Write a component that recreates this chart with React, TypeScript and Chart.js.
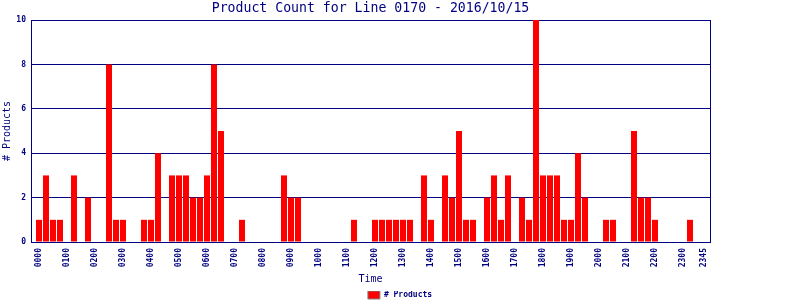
import React, { useEffect, useRef } from "react";
import { Chart, registerables } from "chart.js";
Chart.register(...registerables);

const times = [
  "0000", "0015", "0030", "0045", "0100", "0115", "0130", "0145",
  "0200", "0215", "0230", "0245", "0300", "0315", "0330", "0345",
  "0400", "0415", "0430", "0445", "0500", "0515", "0530", "0545",
  "0600", "0615", "0630", "0645", "0700", "0715", "0730", "0745",
  "0800", "0815", "0830", "0845", "0900", "0915", "0930", "0945",
  "1000", "1015", "1030", "1045", "1100", "1115", "1130", "1145",
  "1200", "1215", "1230", "1245", "1300", "1315", "1330", "1345",
  "1400", "1415", "1430", "1445", "1500", "1515", "1530", "1545",
  "1600", "1615", "1630", "1645", "1700", "1715", "1730", "1745",
  "1800", "1815", "1830", "1845", "1900", "1915", "1930", "1945",
  "2000", "2015", "2030", "2045", "2100", "2115", "2130", "2145",
  "2200", "2215", "2230", "2245", "2300", "2315", "2330", "2345",
];

const counts = [
  1, 3, 1, 1, 0, 3, 0, 2,
  0, 0, 8, 1, 1, 0, 0, 1,
  1, 4, 0, 3, 3, 3, 2, 2,
  3, 8, 5, 0, 0, 1, 0, 0,
  0, 0, 0, 3, 2, 2, 0, 0,
  0, 0, 0, 0, 0, 1, 0, 0,
  1, 1, 1, 1, 1, 1, 0, 3,
  1, 0, 3, 2, 5, 1, 1, 0,
  2, 3, 1, 3, 0, 2, 1, 10,
  3, 3, 3, 1, 1, 4, 2, 0,
  0, 1, 1, 0, 0, 5, 2, 2,
  1, 0, 0, 0, 0, 1, 0, 0,
];

const tickLabels = [
  "0000", "0100", "0200", "0300", "0400", "0500", "0600", "0700",
  "0800", "0900", "1000", "1100", "1200", "1300", "1400", "1500",
  "1600", "1700", "1800", "1900", "2000", "2100", "2200", "2300", "2345",
];

const yTicks = [0, 2, 4, 6, 8, 10];

const chartTitle = "Product Count for Line 0170 - 2016/10/15";
const seriesName = "# Products";
const xTitle = "Time";
const yTitle = "# Products";

const NAVY = "#000080";
const RED = "#ff0000";
const MONO = "'DejaVu Sans Mono', 'Liberation Mono', monospace";

export default function App() {
  const ref = useRef<HTMLCanvasElement>(null);

  useEffect(() => {
    if (!ref.current) return;

    const chart = new Chart(ref.current, {
      type: "bar",
      data: {
        datasets: [
          {
            label: seriesName,
            data: counts.map((v, i) => ({ x: i, y: v })),
            backgroundColor: RED,
            borderWidth: 0,
            inflateAmount: 0,
            barThickness: 6,
          } as any,
        ],
      },
      options: {
        animation: false,
        responsive: false,
        layout: { padding: { left: 0, right: 0, top: 0, bottom: -9 } },
        plugins: {
          title: {
            display: true,
            fullSize: false,
            text: chartTitle,
            color: NAVY,
            font: { family: MONO, size: 13.2, weight: "normal", lineHeight: 1.2 },
            padding: { top: 1, bottom: 3.2 },
          },
          legend: {
            position: "bottom",
            fullSize: true,
            labels: {
              boxWidth: 12,
              boxHeight: 8,
              padding: 0,
              color: NAVY,
              font: { family: MONO, size: 8, weight: "bold" },
              generateLabels: () => [
                {
                  text: seriesName,
                  fillStyle: RED,
                  strokeStyle: "#808080",
                  lineWidth: 1,
                  hidden: false,
                  datasetIndex: 0,
                  fontColor: NAVY,
                } as any,
              ],
            },
          },
          tooltip: { enabled: false },
        },
        scales: {
          x: {
            type: "linear",
            offset: false,
            min: -8 / 7,
            max: 95 + 6 / 7,
            grid: { display: false, drawTicks: false, offset: false },
            border: { display: true, color: NAVY, width: 1 },
            afterBuildTicks: (s: any) => {
              s.ticks = tickLabels.map((t) => ({ value: times.indexOf(t) }));
            },
            afterFit: (s: any) => {
              s.height = 49;
            },
            ticks: {
              autoSkip: false,
              minRotation: 90,
              maxRotation: 90,
              padding: 6,
              color: NAVY,
              font: { family: MONO, size: 8, weight: "bold" },
              callback: (v: any) => times[v as number],
            },
            title: {
              display: true,
              text: xTitle,
              color: NAVY,
              font: { family: MONO, size: 10 },
              padding: { top: 0, bottom: 6 },
            },
          },
          y: {
            min: 0,
            max: 10,
            afterBuildTicks: (s: any) => {
              s.ticks = yTicks.map((v) => ({ value: v }));
            },
            afterFit: (s: any) => {
              s.width = 31;
            },
            grid: { color: NAVY, drawTicks: false },
            border: { display: true, color: NAVY, width: 1 },
            ticks: {
              padding: 5,
              color: NAVY,
              font: { family: MONO, size: 8, weight: "bold" },
            },
            title: {
              display: true,
              text: yTitle,
              color: NAVY,
              font: { family: MONO, size: 10 },
              padding: { top: 1, bottom: 0 },
            },
          },
          yRight: {
            position: "right",
            min: 0,
            max: 10,
            grid: { display: false, drawTicks: false },
            border: { display: true, color: NAVY, width: 1 },
            ticks: { display: false },
            afterFit: (s: any) => {
              s.width = 90;
            },
          },
        },
      } as any,
    });
    return () => chart.destroy();
  }, []);

  return (
    <div style={{ position: "fixed", left: 0, top: 0, width: 800, height: 300, background: "#fff" }}>
      <canvas ref={ref} width={800} height={300} />
    </div>
  );
}
